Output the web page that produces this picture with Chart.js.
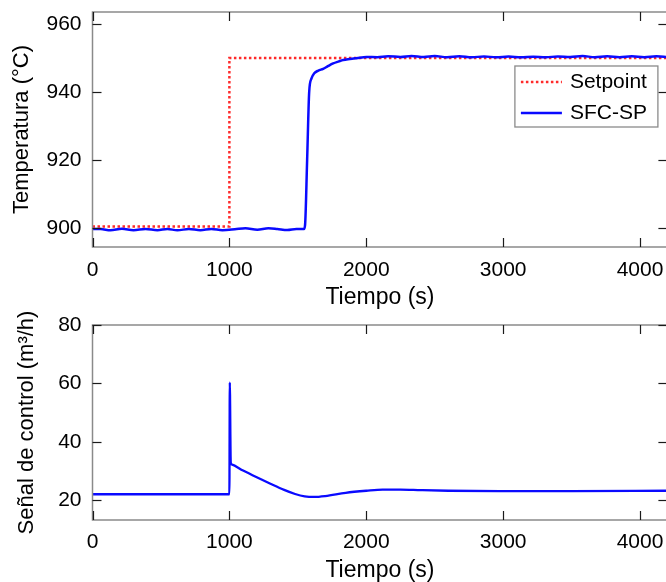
<!DOCTYPE html>
<html><head><meta charset="utf-8">
<script src="https://cdn.jsdelivr.net/npm/chart.js@4.4.0/dist/chart.umd.min.js"></script>
<style>
html,body{margin:0;padding:0;background:#fff;}
#wrap{position:relative;width:666px;height:582px;overflow:hidden;background:#fff;}
canvas{position:absolute;left:0;}
</style></head><body>
<div id="wrap">
<canvas id="c1" width="700" height="310" style="top:0px"></canvas>
<canvas id="c2" width="700" height="272" style="top:310px"></canvas>
</div>
<script>
// ---- data ----
const seriesNames = ['Setpoint', 'SFC-SP'];
const timeSet = [0, 1000, 1000, 4200];
const tempSet = [900.5, 900.5, 950, 950];
const timeTemp = [0,60,131,215,300,387,474,547,620,704,788,868,949,1040,1117,1204,1285,1350,1423,1490,1545,1553,1568,1583,1600,1620,1650,1685,1720,1758,1800,1831,1880,1929,2002,2080,2160,2250,2330,2420,2500,2590,2680,2770,2860,2950,3040,3130,3220,3310,3400,3490,3580,3670,3760,3850,3940,4030,4120,4200];
const tempSFC = [899.75,899.75,899.4,899.85,899.45,899.8,899.45,899.8,899.4,899.8,899.45,899.8,899.45,899.7,900.0,899.6,900.0,899.8,899.5,899.8,899.8,901,920,940,944,945.5,946.3,946.8,947.6,948.4,949.0,949.4,949.7,949.95,950.3,950.25,950.5,950.3,950.6,950.3,950.55,950.25,950.5,950.2,950.45,950.2,950.4,950.2,950.35,950.2,950.45,950.3,950.55,950.25,950.5,950.25,950.5,950.25,950.5,950.3];
const timeCtrl = [0,500,1000,1003,1010,1016,1100,1200,1300,1400,1480,1550,1620,1700,1850,2000,2120,2250,2400,2600,2975,3500,4200];
const ctrlSFC = [22.1,22.1,22.1,60.3,33.0,32.3,30.2,27.9,25.7,23.6,22.2,21.4,21.2,21.5,22.6,23.3,23.7,23.7,23.5,23.3,23.2,23.2,23.3];
const xTicks = [0, 1000, 2000, 3000, 4000];
const tempTicks = [900, 920, 940, 960];
const ctrlTicks = [20, 40, 60, 80];
const xTitle = 'Tiempo (s)';
const tempTitle = 'Temperatura (°C)';
const ctrlTitle = 'Señal de control (m³/h)';

const pts = (xs, ys) => xs.map((x, i) => ({x, y: ys[i]}));
const FONT = 'Liberation Sans, Arial, sans-serif';
const TXT = '#000';

const framePlugin = {
  id: 'frame',
  afterDatasetsDraw(chart) {
    const {ctx, chartArea: a, scales} = chart;
    const line = (x1, y1, x2, y2) => { ctx.beginPath(); ctx.moveTo(x1, y1); ctx.lineTo(x2, y2); ctx.stroke(); };
    ctx.save();
    ctx.strokeStyle = '#8a8a8a'; ctx.lineWidth = 1.5;
    ctx.strokeRect(a.left, a.top, a.right - a.left, a.bottom - a.top);
    ctx.strokeStyle = '#1a1a1a'; ctx.lineWidth = 1.2;
    const L = 9;
    scales.x.ticks.forEach(t => {
      const p = Math.round(scales.x.getPixelForValue(t.value)) + 0.5;
      line(p, a.bottom, p, a.bottom - L); line(p, a.top, p, a.top + L);
    });
    scales.y.ticks.forEach(t => {
      const p = Math.round(scales.y.getPixelForValue(t.value)) + 0.5;
      line(a.left, p, a.left + L, p); line(a.right, p, a.right - L, p);
    });
    ctx.restore();
  }
};

const legendPlugin = {
  id: 'manualLegend',
  afterDraw(chart) {
    if (!chart.options.plugins.manualLegend || !chart.options.plugins.manualLegend.show) return;
    const {ctx, chartArea: a} = chart;
    const bx = a.right - 152.5, by = a.top + 54, bw = 143, bh = 61;
    ctx.save();
    ctx.fillStyle = '#fff';
    ctx.fillRect(bx, by, bw, bh);
    ctx.strokeStyle = '#8a8a8a'; ctx.lineWidth = 1.3;
    ctx.strokeRect(bx, by, bw, bh);
    const order = [1, 0];
    order.forEach((di, k) => {
      const ds = chart.data.datasets[di];
      const y = by + 16 + k * 31;
      ctx.strokeStyle = ds.borderColor; ctx.lineWidth = ds.borderWidth;
      ctx.setLineDash(ds.borderDash || []);
      ctx.beginPath(); ctx.moveTo(bx + 6, y); ctx.lineTo(bx + 47, y); ctx.stroke();
      ctx.setLineDash([]);
      ctx.fillStyle = TXT; ctx.font = '21px ' + FONT; ctx.textBaseline = 'middle'; ctx.textAlign = 'left';
      ctx.fillText(ds.label, bx + 55, y);
    });
    ctx.restore();
  }
};

const zeroPad = s => { s.paddingTop = 0; s.paddingBottom = 0; s.paddingLeft = 0; s.paddingRight = 0; };

function xScale(tickPad) {
  return {
    type: 'linear', min: 0, max: 4200,
    afterBuildTicks: s => { s.ticks = xTicks.map(v => ({value: v})); },
    afterFit: s => { s.height = 62; zeroPad(s); },
    grid: {display: false, drawTicks: false}, border: {display: false},
    ticks: {color: TXT, font: {family: FONT, size: 21}, padding: tickPad, maxRotation: 0, autoSkip: false, callback: v => String(v)},
    title: {display: true, text: xTitle, color: TXT, font: {family: FONT, size: 23, lineHeight: 1}, padding: {top: 0, bottom: 0}}
  };
}
function yScale(min, max, ticks, title, tpad) {
  return {
    type: 'linear', min, max,
    afterBuildTicks: s => { s.ticks = ticks.map(v => ({value: v})); },
    afterFit: s => { s.width = 92.5; zeroPad(s); },
    grid: {display: false, drawTicks: false}, border: {display: false},
    ticks: {color: TXT, font: {family: FONT, size: 21}, padding: 11, callback: v => String(v)},
    title: {display: true, text: title, color: TXT, font: {family: FONT, size: 22, lineHeight: 1}, padding: {top: tpad, bottom: 0}}
  };
}

const common = {
  responsive: false, animation: false, events: [],
  plugins: {legend: {display: false}, tooltip: {enabled: false}}
};

new Chart(document.getElementById('c1'), {
  type: 'line',
  data: {datasets: [
    {label: seriesNames[1], data: pts(timeTemp, tempSFC), borderColor: '#0a0aff', borderWidth: 2.5, pointRadius: 0, cubicInterpolationMode: 'monotone', order: 0},
    {label: seriesNames[0], data: pts(timeSet, tempSet), borderColor: '#ff2a2a', borderWidth: 2.5, borderDash: [2.5, 2.5], pointRadius: 0, tension: 0, order: 1}
  ]},
  options: Object.assign({}, common, {
    layout: {padding: {top: 12, right: 32.6, bottom: 1, left: 0}},
    plugins: {legend: {display: false}, tooltip: {enabled: false}, manualLegend: {show: true}},
    scales: {x: xScale(11), y: yScale(894.5, 963.5, tempTicks, tempTitle, 11)}
  }),
  plugins: [framePlugin, legendPlugin]
});

new Chart(document.getElementById('c2'), {
  type: 'line',
  data: {datasets: [
    {label: seriesNames[1], data: pts(timeCtrl, ctrlSFC), borderColor: '#0a0aff', borderWidth: 2.3, pointRadius: 0, cubicInterpolationMode: 'monotone'}
  ]},
  options: Object.assign({}, common, {
    layout: {padding: {top: 15, right: 32.6, bottom: 0, left: 0}},
    scales: {x: xScale(10), y: yScale(13.3, 80, ctrlTicks, ctrlTitle, 16)}
  }),
  plugins: [framePlugin]
});
</script>
</body></html>
